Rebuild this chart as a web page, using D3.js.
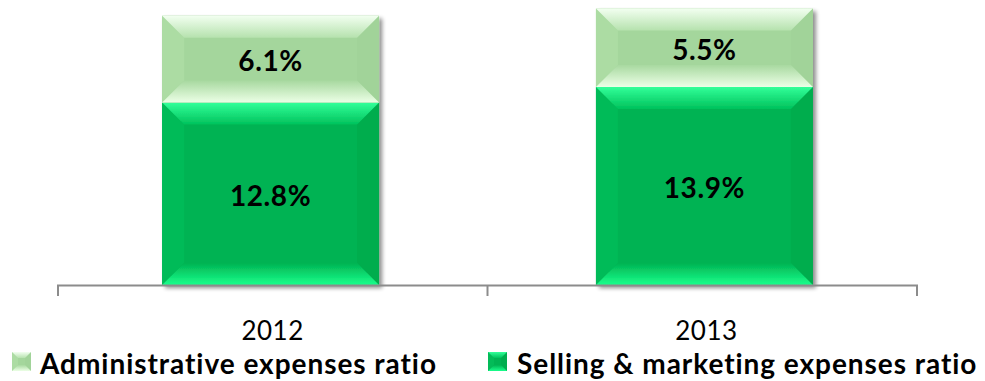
<!DOCTYPE html>
<html>
<head>
<meta charset="utf-8">
<title>Expense ratios</title>
<script src="https://d3js.org/d3.v7.min.js"></script>
<style>
  body { margin: 0; background: #fff; }
  svg text { font-family: Lato, "Open Sans", sans-serif; }
</style>
</head>
<body>
<div id="chart"></div>
<script>
// data
const years = ['2012', '2013'];
const sellingRatio = [12.8, 13.9];
const adminRatio = [6.1, 5.5];
const seriesNames = ['Administrative expenses ratio', 'Selling & marketing expenses ratio'];

const W = 985, H = 381;
const axisY = 285;

const svg = d3.select('#chart').append('svg')
  .attr('width', W).attr('height', H);

const defs = svg.append('defs');

// palettes for the bevel facets
const pal = {
  admin: { face: '#a4d69c', top: ['#f2fff0', '#b6e2ae'], bottom: ['#a8d9a0', '#ecffe6'],
           left: '#acdca3', right: '#a1d399' },
  sell:  { face: '#00b352', top: ['#33ff99', '#00c25c'], bottom: ['#00b352', '#1aff8c'],
           left: '#03bb58', right: '#00ad4e' }
};

function vgrad(id, c0, c1) {
  const g = defs.append('linearGradient').attr('id', id)
    .attr('x1', 0).attr('y1', 0).attr('x2', 0).attr('y2', 1);
  g.append('stop').attr('offset', '0%').attr('stop-color', c0);
  g.append('stop').attr('offset', '100%').attr('stop-color', c1);
}
Object.entries(pal).forEach(([k, p]) => {
  vgrad(k + '-top', p.top[0], p.top[1]);
  vgrad(k + '-bot', p.bottom[0], p.bottom[1]);
});

const shadow = defs.append('filter').attr('id', 'shadow')
  .attr('x', '-10%').attr('y', '-10%').attr('width', '130%').attr('height', '130%');
shadow.append('feGaussianBlur').attr('in', 'SourceAlpha').attr('stdDeviation', 2);
shadow.append('feOffset').attr('dx', 3).attr('dy', 3).attr('result', 'off');
shadow.append('feComponentTransfer').append('feFuncA').attr('type', 'linear').attr('slope', 0.45);
const merge = shadow.append('feMerge');
merge.append('feMergeNode');
merge.append('feMergeNode').attr('in', 'SourceGraphic');

const x = d3.scaleBand().domain(years).range([58, 917])
  .paddingInner(0.5).paddingOuter(0.24);
const y = d3.scaleLinear().domain([0, 20]).range([axisY, 0]);

// bevelled rectangle
function bevel(g, x0, y0, x1, y1, d, key) {
  const p = pal[key];
  const poly = pts => pts.map(q => q.join(',')).join(' ');
  g.append('rect').attr('x', x0).attr('y', y0).attr('width', x1 - x0).attr('height', y1 - y0)
    .attr('fill', p.face);
  g.append('polygon').attr('points', poly([[x0, y0], [x0 + d, y0 + d], [x0 + d, y1 - d], [x0, y1]]))
    .attr('fill', p.left);
  g.append('polygon').attr('points', poly([[x1, y0], [x1 - d, y0 + d], [x1 - d, y1 - d], [x1, y1]]))
    .attr('fill', p.right);
  g.append('polygon').attr('points', poly([[x0, y0], [x1, y0], [x1 - d, y0 + d], [x0 + d, y0 + d]]))
    .attr('fill', `url(#${key}-top)`);
  g.append('polygon').attr('points', poly([[x0, y1], [x1, y1], [x1 - d, y1 - d], [x0 + d, y1 - d]]))
    .attr('fill', `url(#${key}-bot)`);
}

// bars
years.forEach((yr, i) => {
  const g = svg.append('g').attr('filter', 'url(#shadow)');
  const x0 = x(yr), x1 = x(yr) + x.bandwidth();
  const sTop = y(sellingRatio[i]);
  const aTop = y(sellingRatio[i] + adminRatio[i]);
  bevel(g, x0, sTop, x1, y(0), 22, 'sell');
  bevel(g, x0, aTop, x1, sTop, 22, 'admin');
});

// value labels
function valueLabel(cx, cy, v) {
  svg.append('text').attr('x', cx).attr('y', cy)
    .attr('text-anchor', 'middle').attr('dominant-baseline', 'middle')
    .attr('font-size', 28).attr('font-weight', 'bold').attr('letter-spacing', 0.6)
    .attr('fill', '#000').text(v.toFixed(1) + '%');
}
years.forEach((yr, i) => {
  const cx = x(yr) + x.bandwidth() / 2;
  const sTop = y(sellingRatio[i]);
  const aTop = y(sellingRatio[i] + adminRatio[i]);
  valueLabel(cx, (sTop + y(0)) / 2 + 5, sellingRatio[i]);
  valueLabel(cx, (aTop + sTop) / 2 + 5, adminRatio[i]);
});

// category axis with ticks between categories
const axis = svg.append('g').attr('stroke', '#8c8c8c').attr('stroke-width', 2);
axis.append('line').attr('x1', 57).attr('x2', 918).attr('y1', axisY + 0.5).attr('y2', axisY + 0.5);
const edges = [58, x(years[1]) - x.step() * x.paddingInner() / 2, 917];
edges.forEach(ex => {
  axis.append('line').attr('x1', ex).attr('x2', ex).attr('y1', axisY).attr('y2', axisY + 11);
});
years.forEach(yr => {
  svg.append('text').attr('x', x(yr) + x.bandwidth() / 2 + 2).attr('y', 340)
    .attr('text-anchor', 'middle').attr('font-size', 26).attr('letter-spacing', 0.5)
    .attr('fill', '#000').text(yr);
});

// legend
const legendItems = [
  { name: seriesNames[0], key: 'admin', mx: 12, tx: 40 },
  { name: seriesNames[1], key: 'sell', mx: 488, tx: 517 }
];
legendItems.forEach(it => {
  const g = svg.append('g');
  bevel(g, it.mx, 352, it.mx + 19, 371, 6, it.key);
  svg.append('text').attr('x', it.tx).attr('y', 374)
    .attr('font-size', 28).attr('font-weight', 'bold').attr('letter-spacing', 0.95)
    .attr('fill', '#000').text(it.name);
});
</script>
</body>
</html>
